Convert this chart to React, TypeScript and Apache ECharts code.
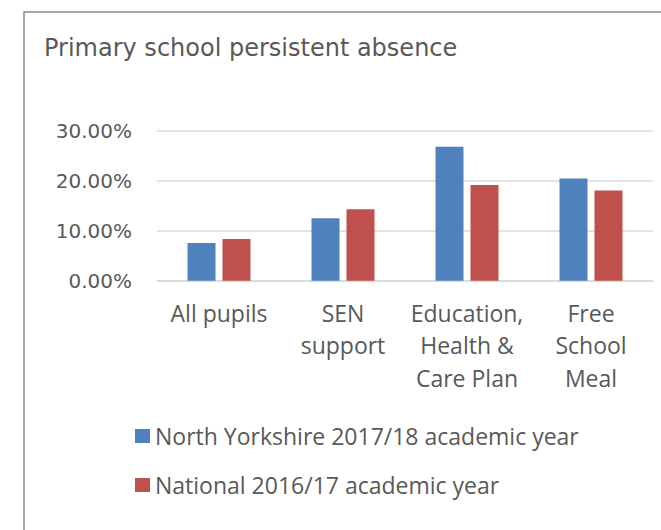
import React, { useEffect, useRef } from "react";
import * as echarts from "echarts";

const titleText = "Primary school persistent absence";
const categories = ["All pupils", "SEN\nsupport", "Education,\nHealth &\nCare Plan", "Free\nSchool\nMeal"];
const seriesNames = ["North Yorkshire 2017/18 academic year", "National 2016/17 academic year"];
const northYorkshire = [7.55, 12.5, 26.85, 20.5];
const national = [8.35, 14.3, 19.2, 18.1];
const yMin = 0;
const yMax = 30;
const yInterval = 10;

export default function App() {
  const ref = useRef<HTMLDivElement>(null);
  useEffect(() => {
    if (!ref.current) return;
    const chart = echarts.init(ref.current, null, { renderer: "svg" });
    const grey = "#595959";
    chart.setOption({
      animation: false,
      backgroundColor: "#ffffff",
      title: {
        text: titleText,
        left: 44,
        top: 36,
        padding: 0,
        textStyle: { fontFamily: "DejaVu Sans", fontSize: 24, fontWeight: "normal", color: grey },
      },
      graphic: [
        {
          type: "rect",
          shape: { x: 24, y: 12, width: 700, height: 600 },
          style: { fill: "none", stroke: "#8a8a8a", lineWidth: 1.5 },
          silent: true,
        },
      ],
      legend: {
        orient: "vertical",
        left: 135,
        top: 423,
        itemWidth: 15,
        itemHeight: 14,
        itemGap: 23,
        icon: "rect",
        padding: 0,
        textStyle: { fontFamily: "Open Sans", fontSize: 23, color: grey, lineHeight: 26 },
        data: seriesNames,
      },
      grid: { left: 157, right: 8, top: 131, bottom: 249.3, containLabel: false },
      xAxis: {
        type: "category",
        data: categories,
        axisTick: { show: false },
        axisLine: { lineStyle: { color: "#d9d9d9", width: 1.5 } },
        axisLabel: {
          interval: 0,
          margin: 16,
          fontFamily: "Open Sans",
          fontSize: 23,
          lineHeight: 32.5,
          color: grey,
          align: "center",
        },
      },
      yAxis: {
        type: "value",
        min: yMin,
        max: yMax,
        interval: yInterval,
        axisLine: { show: false },
        axisTick: { show: false },
        splitLine: { lineStyle: { color: "#d9d9d9", width: 1.5 } },
        axisLabel: {
          margin: 25,
          fontFamily: "DejaVu Sans",
          fontSize: 20,
          color: grey,
          formatter: (v: number) => v.toFixed(2) + "%",
        },
      },
      series: [
        {
          name: seriesNames[0],
          type: "bar",
          data: northYorkshire,
          barWidth: 28,
          barGap: "25%",
          itemStyle: { color: "#4F81BD" },
        },
        {
          name: seriesNames[1],
          type: "bar",
          data: national,
          barWidth: 28,
          barGap: "25%",
          itemStyle: { color: "#C0504D" },
        },
      ],
    });
    return () => chart.dispose();
  }, []);
  return (
    <div
      ref={ref}
      style={{ position: "fixed", left: 0, top: 0, width: 661, height: 530, background: "#fff" }}
    />
  );
}
